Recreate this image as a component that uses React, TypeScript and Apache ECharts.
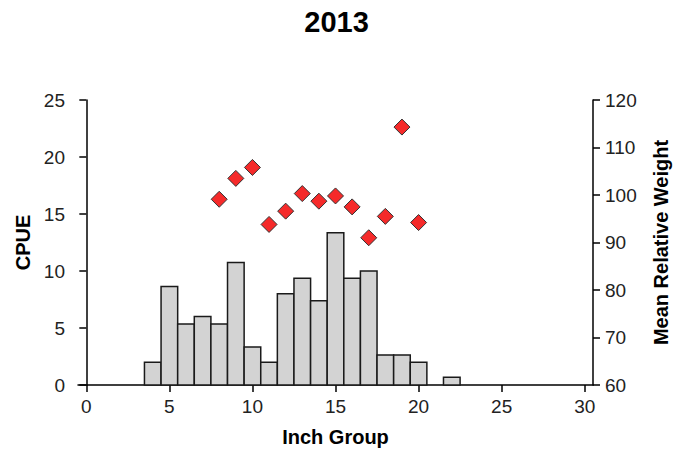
import React, { useEffect, useRef } from "react";
import * as echarts from "echarts";

const title = "2013";
const inchGroups = [4, 5, 6, 7, 8, 9, 10, 11, 12, 13, 14, 15, 16, 17, 18, 19, 20, 22];
const cpue = [2.0, 8.65, 5.34, 6.0, 5.34, 10.74, 3.34, 2.0, 8.0, 9.36, 7.39, 13.35, 9.36, 10.0, 2.64, 2.64, 2.0, 0.68];
const wrGroups = [8, 9, 10, 11, 12, 13, 14, 15, 16, 17, 18, 19, 20];
const wrValues = [99.1, 103.5, 105.8, 93.8, 96.6, 100.3, 98.7, 99.8, 97.5, 91.0, 95.5, 114.3, 94.2];
const xTicks = [0, 5, 10, 15, 20, 25, 30];

const FONT = "'Liberation Sans', Arial, sans-serif";

export default function App() {
  const ref = useRef<HTMLDivElement>(null);
  useEffect(() => {
    document.body.style.margin = "0";
    const chart = echarts.init(ref.current!, null, { renderer: "svg" });
    const barData = inchGroups.map((g, i) => [g, cpue[i]]);
    const wrData = wrGroups.map((g, i) => [g, wrValues[i]]);
    const nameStyle = { fontFamily: FONT, fontSize: 20, fontWeight: "bold", color: "#000" };
    const labelStyle = { fontFamily: FONT, fontSize: 19, color: "#222" };
    chart.setOption({
      animation: false,
      backgroundColor: "#ffffff",
      textStyle: { fontFamily: FONT },
      title: {
        text: title,
        left: "center",
        top: 2,
        textStyle: { fontFamily: FONT, fontSize: 29, fontWeight: "bold", color: "#000" },
      },
      grid: { left: 78, right: 80, top: 100, bottom: 68, outerBoundsMode: "none" },
      xAxis: {
        type: "value",
        min: -0.5,
        max: 30.5,
        name: "Inch Group",
        nameLocation: "middle",
        nameGap: 42,
        nameTextStyle: nameStyle,
        axisLine: { lineStyle: { color: "#000", width: 1.5 } },
        axisTick: { show: true, customValues: xTicks, length: 7, lineStyle: { color: "#000", width: 1.5 } },
        axisLabel: { customValues: xTicks, ...labelStyle, margin: 12 },
        splitLine: { show: false },
      },
      yAxis: [
        {
          type: "value",
          min: 0,
          max: 25,
          interval: 5,
          name: "CPUE",
          nameLocation: "middle",
          nameGap: 40,
          nameTextStyle: nameStyle,
          axisLine: { show: true, lineStyle: { color: "#000", width: 1.5 } },
          axisTick: { show: true, length: 7, lineStyle: { color: "#000", width: 1.5 } },
          axisLabel: { ...labelStyle, margin: 13 },
          splitLine: { show: false },
        },
        {
          type: "value",
          min: 60,
          max: 120,
          interval: 10,
          position: "right",
          name: "Mean Relative Weight",
          nameLocation: "middle",
          nameGap: 58,
          nameTextStyle: nameStyle,
          axisLine: { show: true, lineStyle: { color: "#000", width: 1.5 } },
          axisTick: { show: true, length: 7, lineStyle: { color: "#000", width: 1.5 } },
          axisLabel: { ...labelStyle, margin: 12 },
          splitLine: { show: false },
        },
      ],
      series: [
        {
          type: "custom",
          name: "CPUE",
          xAxisIndex: 0,
          yAxisIndex: 0,
          data: barData,
          encode: { x: 0, y: 1 },
          renderItem: (params: any, api: any) => {
            const x = api.value(0);
            const y = api.value(1);
            const p0 = api.coord([x - 0.5, y]);
            const p1 = api.coord([x + 0.5, 0]);
            return {
              type: "rect",
              shape: { x: p0[0], y: p0[1], width: p1[0] - p0[0], height: p1[1] - p0[1] },
              style: { fill: "#d3d3d3", stroke: "#1a1a1a", lineWidth: 1.5 },
            };
          },
          z: 2,
        },
        {
          type: "scatter",
          name: "Wr",
          xAxisIndex: 0,
          yAxisIndex: 1,
          data: wrData,
          symbol: "diamond",
          symbolSize: 16,
          itemStyle: { color: "#f52a2a", borderColor: "#333", borderWidth: 1, opacity: 1 },
          z: 3,
        },
      ],
    });
    return () => chart.dispose();
  }, []);
  return <div ref={ref} style={{ width: 673, height: 453 }} />;
}
